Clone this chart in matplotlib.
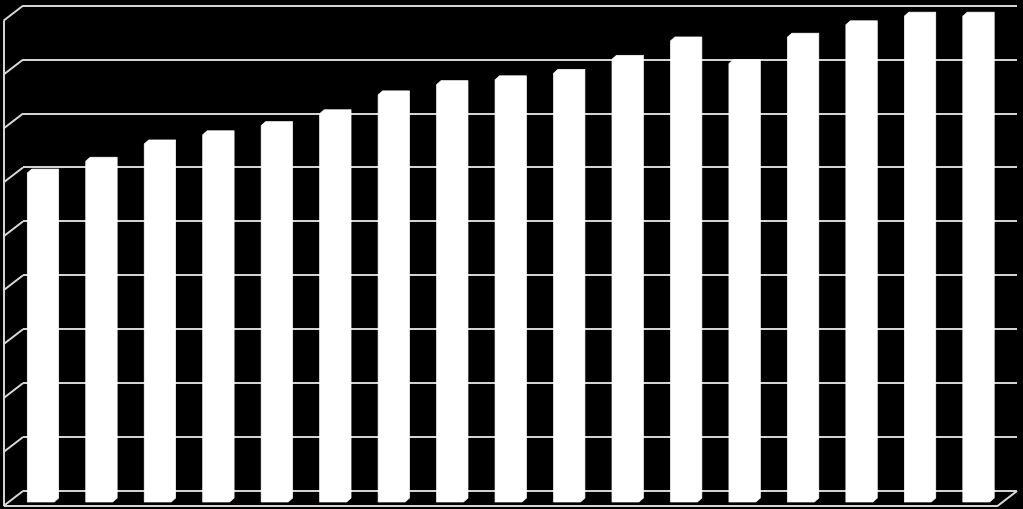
import numpy as np
import matplotlib
matplotlib.use('Agg')
import matplotlib.pyplot as plt
from matplotlib.patches import Polygon
from matplotlib.transforms import IdentityTransform


# データ (目盛りラベルなし、値は図から読み取り)
categories = [str(i) for i in range(1, 18)]
values = [61.0, 63.2, 66.4, 68.1, 69.8, 72.0, 75.5, 77.4, 78.3,
          79.5, 82.1, 85.5, 81.3, 86.2, 88.5, 90.1, 90.1]
grid_values = np.arange(0, 100, 10)

# 見た目の設定 (ピクセル単位の3Dオフセット)
W, H = 1023, 509
wall_dx, wall_dy = -19.5, -15     # 奥の壁 -> 手前の床
bar_dx, bar_dy = -11.5, -11       # 奥の壁 -> 棒の前面
depth_dx, depth_dy = 4.5, 4       # 棒の奥行き
bar_width = 0.46
line_color = '#d9d9d9'

fig = plt.figure(figsize=(W / 100, H / 100), dpi=100, facecolor='black')
ax = fig.add_axes([23 / W, 18 / H, 994 / W, 485.3 / H])
ax.set_xlim(0, len(categories))
ax.set_ylim(0, 90)
ax.axis('off')

ident = IdentityTransform()


def to_px(x, y):
    return ax.transData.transform((x, y))


def seg(p, q, **kw):
    ax.plot([p[0], q[0]], [p[1], q[1]], color=line_color, lw=1.4,
            transform=ident, clip_on=False, solid_capstyle='butt', zorder=1, **kw)


# 奥の壁の目盛り線と左の壁
n = len(categories)
for v in grid_values:
    a = to_px(0, v)
    b = to_px(n, v)
    seg(a, b)
    seg(a, a + np.array([wall_dx, wall_dy]))

off = np.array([wall_dx, wall_dy])
seg(to_px(0, grid_values[-1]) + off, to_px(0, 0) + off)
# 床
seg(to_px(0, 0) + off, to_px(n, 0) + off)
seg(to_px(n, 0), to_px(n, 0) + off)

# 棒 (前面 + 上面 + 側面)
boff = np.array([bar_dx, bar_dy])
doff = np.array([depth_dx, depth_dy])
for i, v in enumerate(values):
    xl = i + 0.5 - bar_width / 2
    xr = i + 0.5 + bar_width / 2
    bl = to_px(xl, 0) + boff
    tl = to_px(xl, v) + boff
    tr = to_px(xr, v) + boff
    br = to_px(xr, 0) + boff
    pts = [bl, tl, tl + doff, tr + doff, br + doff, br]
    ax.add_patch(Polygon(pts, closed=True, facecolor='white', edgecolor='white',
                         lw=0.5, transform=ident, clip_on=False, zorder=3))

fig.savefig('out.png', dpi=100, facecolor='black')
